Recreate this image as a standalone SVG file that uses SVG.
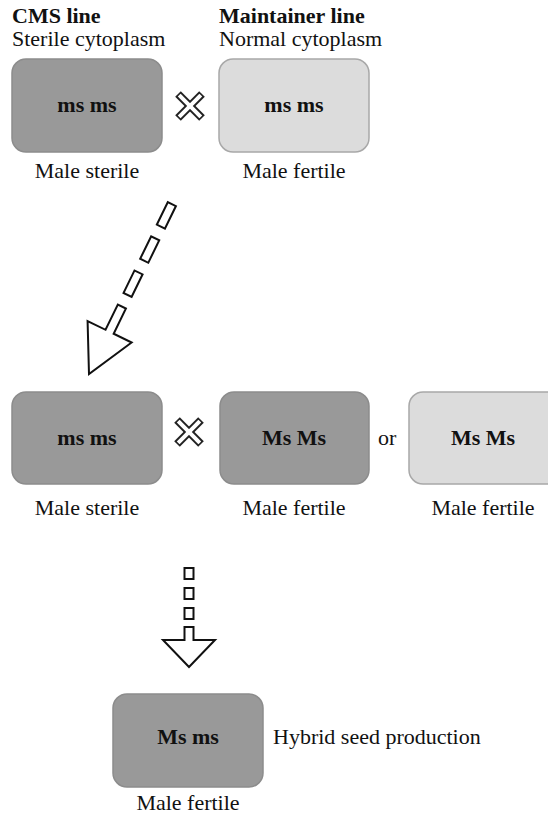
<svg xmlns="http://www.w3.org/2000/svg" width="548" height="817" viewBox="0 0 548 817">
<defs>
<style>
text{font-family:"Liberation Serif","Times New Roman",serif;font-size:22px;fill:#111}
.b{font-weight:bold}
.m{text-anchor:middle}
.dark{fill:#999999;stroke:#8c8c8c;stroke-width:1.5}
.light{fill:#dcdcdc;stroke:#a8a8a8;stroke-width:1.5}
.arr{fill:#fff;stroke:#111;stroke-width:2;stroke-linejoin:miter}
.xo{stroke:#222;stroke-width:8;stroke-linecap:butt}
.xi{stroke:#fff;stroke-width:4;stroke-linecap:butt}
</style>
<g id="cross">
<line class="xo" x1="-12" y1="-12" x2="12" y2="12"/>
<line class="xo" x1="-12" y1="12" x2="12" y2="-12"/>
<line class="xi" x1="-10.8" y1="-10.8" x2="10.8" y2="10.8"/>
<line class="xi" x1="-10.8" y1="10.8" x2="10.8" y2="-10.8"/>
</g>
</defs>
<rect width="548" height="817" fill="#fff"/>

<g id="header-cms">
<text class="b" x="12" y="23">CMS line</text>
<text x="12" y="46">Sterile cytoplasm</text>
</g>
<g id="header-maintainer">
<text class="b" x="219" y="23">Maintainer line</text>
<text x="219" y="46">Normal cytoplasm</text>
</g>

<g id="n1">
<rect class="dark" x="12" y="59" width="150" height="93" rx="14"/>
<text class="b m" x="87" y="112">ms ms</text>
<text class="m" x="87" y="178">Male sterile</text>
</g>
<g id="x1"><use href="#cross" x="190" y="106"/></g>
<g id="n2">
<rect class="light" x="219" y="59" width="150" height="93" rx="14"/>
<text class="b m" x="294" y="112">ms ms</text>
<text class="m" x="294" y="178">Male fertile</text>
</g>

<g id="n3">
<rect class="dark" x="12" y="392" width="150" height="92" rx="14"/>
<text class="b m" x="87" y="445">ms ms</text>
<text class="m" x="87" y="515">Male sterile</text>
</g>
<g id="x2"><use href="#cross" x="189" y="432"/></g>
<g id="n4">
<rect class="dark" x="220" y="392" width="149" height="92" rx="14"/>
<text class="b m" x="294" y="445">Ms Ms</text>
<text class="m" x="294" y="515">Male fertile</text>
</g>
<g id="or"><text x="378" y="445">or</text></g>
<g id="n5">
<rect class="light" x="409" y="392" width="160" height="92" rx="14"/>
<text class="b m" x="483" y="445">Ms Ms</text>
<text class="m" x="483" y="515">Male fertile</text>
</g>

<g id="n6">
<rect class="dark" x="113" y="694" width="150" height="93" rx="14"/>
<text class="b m" x="188" y="744">Ms ms</text>
<text class="m" x="188" y="810">Male fertile</text>
<text x="273" y="744">Hybrid seed production</text>
</g>

<g id="connectors">
<g id="arrow1" transform="translate(89,374) rotate(26)">
<rect class="arr" x="-4.5" y="-189" width="9" height="25"/>
<rect class="arr" x="-4.5" y="-151" width="9" height="25"/>
<rect class="arr" x="-4.5" y="-113" width="9" height="25"/>
<polygon class="arr" points="0,0 -24.5,-47 -4.5,-47 -4.5,-75 4.5,-75 4.5,-47 24.5,-47"/>
</g>
<g id="arrow2" transform="translate(189,667)">
<rect class="arr" x="-4.5" y="-99" width="9" height="11"/>
<rect class="arr" x="-4.5" y="-79" width="9" height="11"/>
<rect class="arr" x="-4.5" y="-59" width="9" height="11"/>
<polygon class="arr" points="0,0 -26,-27 -4.5,-27 -4.5,-40 4.5,-40 4.5,-27 26,-27"/>
</g>
</g>
</svg>
